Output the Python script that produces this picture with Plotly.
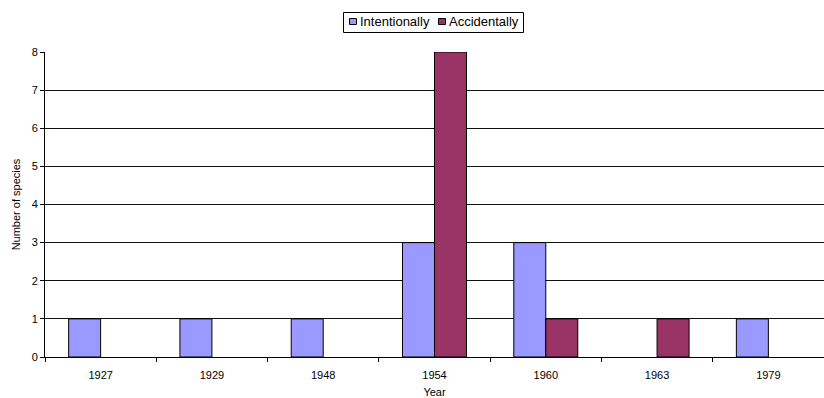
import plotly.graph_objects as go

years = ["1927", "1929", "1948", "1954", "1960", "1963", "1979"]
intentionally = [1, 1, 1, 3, 3, 0, 1]
accidentally = [0, 0, 0, 8, 1, 1, 0]

series_names = ["Intentionally", "Accidentally"]
series_colors = ["#9999FF", "#993366"]

font = "Liberation Sans, Arial, sans-serif"

# plot-area geometry in pixels, used to place the hand-drawn legend
W, H = 824, 398
L, R, T, B = 45, 0, 52, 41
PW, PH = W - L - R, H - T - B


def px(x):
    return (x - L) / PW


def py(y):
    return (H - B - y) / PH


def nonzero(vals):
    # empty categories draw no bar at all
    return [v if v else None for v in vals]


fig = go.Figure()
for name, vals, color in zip(series_names, [intentionally, accidentally], series_colors):
    fig.add_trace(go.Bar(
        x=years, y=nonzero(vals), name=name, showlegend=False,
        marker=dict(color=color, line=dict(color="black", width=1)),
    ))

# compact boxed legend above the plot
shapes = [dict(type="rect", xref="paper", yref="paper",
               x0=px(343.5), x1=px(523.5), y0=py(12.5), y1=py(32.5),
               line=dict(color="black", width=1), fillcolor="white")]
annotations = []
item_x = [349, 438]
for x0, name, color in zip(item_x, series_names, series_colors):
    shapes.append(dict(type="rect", xref="paper", yref="paper",
                       x0=px(x0 + 0.5), x1=px(x0 + 7.5), y0=py(18.5), y1=py(24.5),
                       line=dict(color="black", width=1), fillcolor=color))
    annotations.append(dict(xref="paper", yref="paper", x=px(x0 + 9), y=py(22),
                            xanchor="left", yanchor="middle", showarrow=False,
                            text=name, font=dict(size=13, color="black")))

fig.update_layout(
    width=W, height=H,
    margin=dict(l=L, r=R, t=T, b=B),
    paper_bgcolor="white", plot_bgcolor="white",
    barmode="group", bargap=0.425, bargroupgap=0,
    font=dict(family=font, size=11, color="black"),
    shapes=shapes, annotations=annotations,
    xaxis=dict(
        type="category", showgrid=False, showline=True, linecolor="black",
        linewidth=1, ticks="outside", tickson="boundaries", ticklen=4,
        tickcolor="black", tickfont=dict(size=11), ticklabelstandoff=8,
        title=dict(text="Year", font=dict(size=11), standoff=9),
    ),
    yaxis=dict(
        range=[0, 8], dtick=1, showgrid=True, gridcolor="#111111", gridwidth=1,
        showline=True, linecolor="black", linewidth=1, ticks="outside",
        ticklen=4, tickcolor="black", tickfont=dict(size=11),
        title=dict(text="Number of species", font=dict(size=11), standoff=8),
        zeroline=False,
    ),
)

fig.write_html("out.html")
